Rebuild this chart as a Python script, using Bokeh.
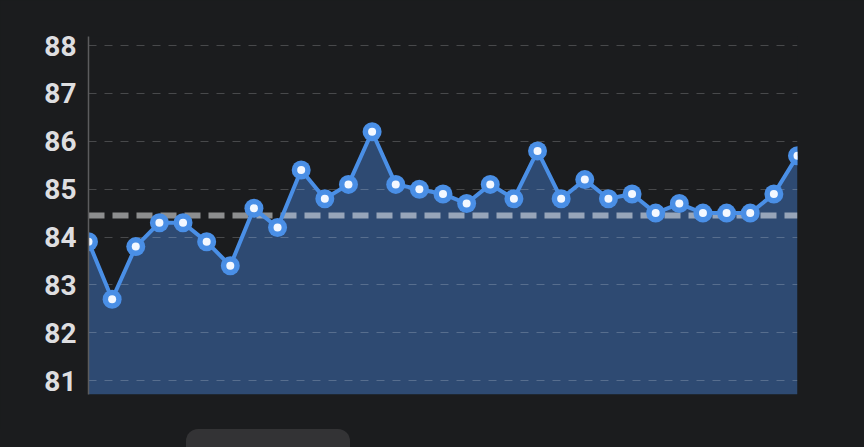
from bokeh.plotting import figure
from bokeh.models import FixedTicker, ColumnDataSource, Div
from bokeh.layouts import column
from bokeh.embed import file_html
from bokeh.resources import INLINE

values = [83.9, 82.7, 83.8, 84.3, 84.3, 83.9, 83.4, 84.6, 84.2, 85.4,
          84.8, 85.1, 86.2, 85.1, 85.0, 84.9, 84.7, 85.1, 84.8, 85.8,
          84.8, 85.2, 84.8, 84.9, 84.5, 84.7, 84.5, 84.5, 84.5, 84.9, 85.7]
x = list(range(len(values)))
mean_value = 84.45
y_ticks = [81, 82, 83, 84, 85, 86, 87, 88]
y_min, y_max = 80.71, 88.19

BG = "#1b1c1e"
BLUE = "#4a8fe6"
FILL = "#2e4a72"

src = ColumnDataSource(dict(x=x, y=values, base=[y_min] * len(values)))

p = figure(width=864, height=429, output_backend="svg", toolbar_location=None,
           x_range=(x[0], x[-1]), y_range=(y_min, y_max),
           min_border_left=88, min_border_right=67, min_border_top=36, min_border_bottom=35)
p.background_fill_color = BG
p.border_fill_color = BG
p.outline_line_color = None
p.xaxis.visible = False
p.xgrid.visible = False

p.varea(x="x", y1="base", y2="y", source=src, fill_color=FILL, level="underlay")

p.ygrid.ticker = FixedTicker(ticks=y_ticks)
p.ygrid.grid_line_color = "white"
p.ygrid.grid_line_alpha = 0.2
p.ygrid.grid_line_dash = "8 8"
p.ygrid.grid_line_width = 1

ax = p.yaxis[0]
ax.ticker = FixedTicker(ticks=y_ticks)
ax.major_tick_line_color = None
ax.minor_tick_line_color = None
ax.axis_line_color = "#5c5c5e"
ax.axis_line_width = 1.5
ax.major_label_text_color = "#dedee0"
ax.major_label_text_font = "Roboto"
ax.major_label_text_font_size = "28px"
ax.major_label_text_font_style = "bold"
ax.major_label_standoff = 6

p.line([x[0], x[-1]], [mean_value, mean_value], line_color="white", line_alpha=0.5,
       line_width=6, line_dash="16 8")

p.line("x", "y", source=src, line_color=BLUE, line_width=4)
p.scatter("x", "y", source=src, size=19, fill_color=BLUE, line_color=None)
p.scatter("x", "y", source=src, size=8, fill_color="#f4f8ff", line_color=None)

tab = Div(width=164, height=18, margin=(0, 0, 0, 186),
          styles={"background-color": "#333335", "border-radius": "12px 12px 0 0"})

layout = column(p, tab, spacing=0, styles={"background-color": BG})

html = file_html(layout, INLINE)
html = html.replace("<body>", '<body style="background-color:#1b1c1e">')
open("out.html", "w").write(html)
